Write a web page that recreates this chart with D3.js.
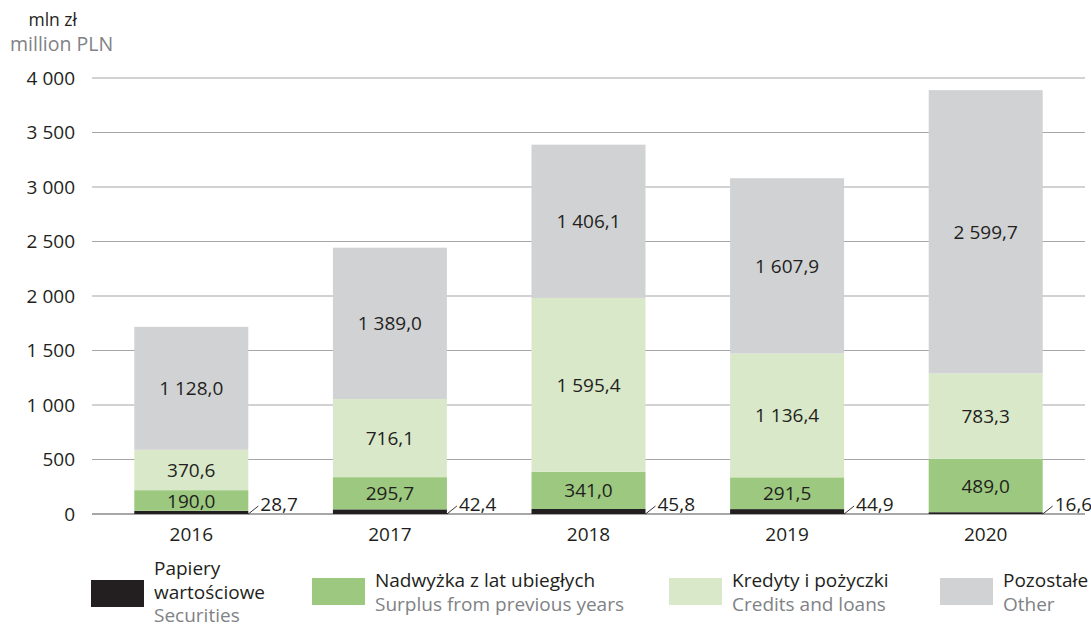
<!DOCTYPE html>
<html>
<head>
<meta charset="utf-8">
<script src="https://cdn.jsdelivr.net/npm/d3@7"></script>
<style>
  html, body { margin: 0; padding: 0; background: #fff; }
  svg { display: block; font-family: "Open Sans", "Noto Sans", sans-serif; }
</style>
</head>
<body>
<svg id="chart" width="1091" height="625"></svg>
<script>
// Years on the x axis
const years = ["2016", "2017", "2018", "2019", "2020"];

// Stacked series, bottom to top (mln zł)
const securities = [28.7, 42.4, 45.8, 44.9, 16.6];
const surplus    = [190.0, 295.7, 341.0, 291.5, 489.0];
const credits    = [370.6, 716.1, 1595.4, 1136.4, 783.3];
const other      = [1128.0, 1389.0, 1406.1, 1607.9, 2599.7];

// Y axis ticks
const yTicks = [0, 500, 1000, 1500, 2000, 2500, 3000, 3500, 4000];

const seriesKeys = ["securities", "surplus", "credits", "other"];
const seriesColors = {
  securities: "#231f20",
  surplus: "#9cc97f",
  credits: "#d9e8c9",
  other: "#d1d2d4"
};
const legendPl = {
  securities: ["Papiery", "wartościowe"],
  surplus: ["Nadwyżka z lat ubiegłych"],
  credits: ["Kredyty i pożyczki"],
  other: ["Pozostałe"]
};
const legendEn = {
  securities: "Securities",
  surplus: "Surplus from previous years",
  credits: "Credits and loans",
  other: "Other"
};

const rows = years.map((y, i) => ({
  year: y,
  securities: securities[i],
  surplus: surplus[i],
  credits: credits[i],
  other: other[i]
}));

const plLocale = d3.formatLocale({ decimal: ",", thousands: " ", grouping: [3], currency: ["", " zł"] });
const fmtVal = plLocale.format(",.1f");
const fmtTick = plLocale.format(",d");

const svg = d3.select("#chart");
const plotLeft = 92, plotRight = 1085, plotTop = 78, plotBottom = 514;

const x = d3.scaleBand().domain(years).range([plotLeft, plotRight]).paddingInner(0.426).paddingOuter(0.213);
const y = d3.scaleLinear().domain([0, 4000]).range([plotBottom, plotTop]);

// Gridlines and tick labels
const grid = svg.append("g");
grid.selectAll("line").data(yTicks).join("line")
  .attr("x1", plotLeft).attr("x2", plotRight)
  .attr("y1", d => y(d)).attr("y2", d => y(d))
  .attr("stroke", d => d === 0 ? "#8a8a8a" : "#a6a6a6")
  .attr("stroke-width", d => d === 0 ? 1.6 : 1.2);
grid.selectAll("text").data(yTicks).join("text")
  .attr("x", 75).attr("y", d => y(d) + 6.5)
  .attr("text-anchor", "end")
  .attr("font-size", 19).attr("fill", "#231f20")
  .text(d => fmtTick(d));

// Unit labels
svg.append("text").attr("x", 77).attr("y", 26).attr("text-anchor", "end")
  .attr("font-size", 17.5).attr("fill", "#231f20").text("mln zł");
svg.append("text").attr("x", 10).attr("y", 51)
  .attr("font-size", 19.5).attr("fill", "#808285").text("million PLN");

// Stacked bars
const stack = d3.stack().keys(seriesKeys)(rows);
const layers = svg.append("g").selectAll("g").data(stack).join("g")
  .attr("fill", d => seriesColors[d.key]);
layers.selectAll("rect").data(d => d).join("rect")
  .attr("x", d => x(d.data.year))
  .attr("width", x.bandwidth())
  .attr("y", d => y(d[1]))
  .attr("height", d => y(d[0]) - y(d[1]));

// Values inside segments (except securities, labelled outside)
stack.filter(s => s.key !== "securities").forEach(s => {
  svg.append("g").selectAll("text").data(s).join("text")
    .attr("x", d => x(d.data.year) + x.bandwidth() / 2)
    .attr("y", d => (y(d[0]) + y(d[1])) / 2 + 7)
    .attr("text-anchor", "middle")
    .attr("font-size", 19).attr("fill", "#231f20")
    .text(d => fmtVal(d.data[s.key]));
});

// Securities values with leader lines
const sec = stack.find(s => s.key === "securities");
const lead = svg.append("g");
lead.selectAll("line").data(sec).join("line")
  .attr("x1", d => x(d.data.year) + x.bandwidth())
  .attr("y1", d => y(d[0]))
  .attr("x2", d => x(d.data.year) + x.bandwidth() + 10)
  .attr("y2", d => y(d[0]) - 8)
  .attr("stroke", "#231f20").attr("stroke-width", 0.9);
lead.selectAll("text").data(sec).join("text")
  .attr("x", d => x(d.data.year) + x.bandwidth() + 12)
  .attr("y", d => y(d[0]) - 3)
  .attr("font-size", 19).attr("fill", "#231f20")
  .text(d => fmtVal(d.data.securities));

// Year labels
svg.append("g").selectAll("text").data(years).join("text")
  .attr("x", d => x(d) + x.bandwidth() / 2)
  .attr("y", 541)
  .attr("text-anchor", "middle")
  .attr("font-size", 19).attr("fill", "#231f20")
  .text(d => d);

// Legend
const legendX = { securities: 91, surplus: 312, credits: 669, other: 940 };
const lg = svg.append("g");
seriesKeys.forEach(k => {
  const g = lg.append("g");
  const sw = legendX[k];
  const swY = k === "securities" ? 580 : 578;
  g.append("rect").attr("x", sw).attr("y", swY).attr("width", 53).attr("height", 27)
    .attr("fill", seriesColors[k]);
  const tx = sw + 63;
  const lines = legendPl[k];
  const startY = k === "securities" ? 575 : 587;
  lines.forEach((t, i) => {
    g.append("text").attr("x", tx).attr("y", startY + i * 23.5)
      .attr("font-size", 19).attr("fill", "#231f20").text(t);
  });
  g.append("text").attr("x", tx).attr("y", startY + lines.length * 23.5)
    .attr("font-size", 19).attr("fill", "#808285").text(legendEn[k]);
});
</script>
</body>
</html>
